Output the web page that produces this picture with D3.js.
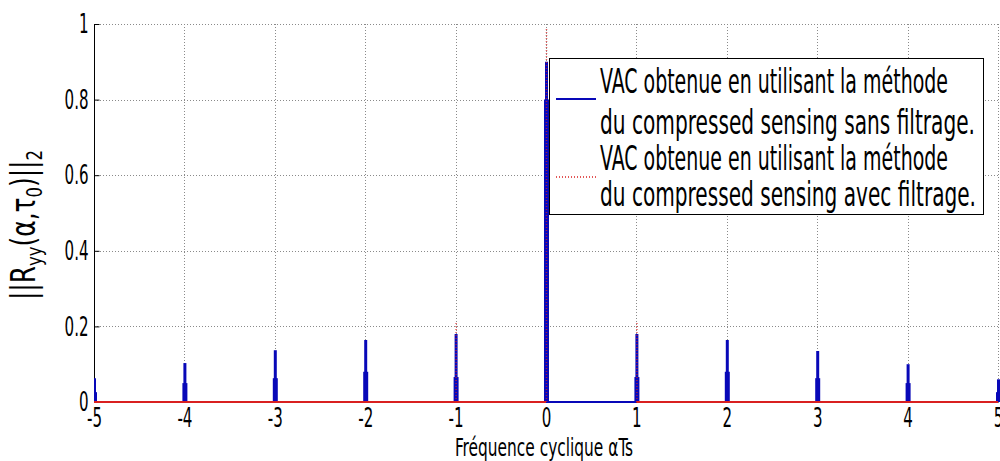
<!DOCTYPE html>
<html><head><meta charset="utf-8">
<script src="https://cdn.jsdelivr.net/npm/d3@7"></script>
<style>
html,body{margin:0;padding:0;background:#fff;}
svg{display:block;}
text{font-family:"Liberation Sans Narrow","DejaVu Sans Condensed","Arial Narrow",sans-serif;fill:#000;}
</style></head>
<body>
<svg id="chart" width="1000" height="461"></svg>
<script>
// ---- data ----
const xTicks = [-5,-4,-3,-2,-1,0,1,2,3,4,5];
const yTicks = [0,0.2,0.4,0.6,0.8,1];
const peakAlpha = [-5,-4,-3,-2,-1,0,1,2,3,4,5];
const blueTop = [0.063,0.103,0.137,0.164,0.18,0.90,0.18,0.164,0.135,0.10,0.06];
const blueShoulder = [0.026,0.05,0.063,0.08,0.066,0.80,0.066,0.08,0.063,0.05,0.026];
const redAlpha = [-1,0,1];
const redTop = [0.21,0.99,0.21];
const redBaseSegments = [[-5,0],[1,5]];
const blueBaseSegments = [[0,1]];
const legendLines = [
  "VAC obtenue en utilisant la méthode",
  "du compressed sensing sans filtrage.",
  "VAC obtenue en utilisant la méthode",
  "du compressed sensing avec filtrage."
];
const xLabel = "Fréquence cyclique αTs";

const BLUE = "#0808b8", RED = "#d92020";
const svg = d3.select("#chart");
const x = d3.scaleLinear().domain([-5,5]).range([94,998]);
const y = d3.scaleLinear().domain([0,1]).range([402,24]);

svg.append("defs").append("clipPath").attr("id","clip")
  .append("rect").attr("x",94).attr("y",0).attr("width",906).attr("height",404);

// grid
const grid = svg.append("g").attr("stroke","#8a8a8a").attr("stroke-width",1).attr("stroke-dasharray","1,2");
grid.selectAll("line.v").data(xTicks.filter(d=>d>-5)).join("line")
  .attr("x1",d=>Math.round(x(d))+0.5).attr("x2",d=>Math.round(x(d))+0.5)
  .attr("y1",y(1)).attr("y2",y(0));
grid.selectAll("line.h").data(yTicks.filter(d=>d>0)).join("line")
  .attr("y1",d=>Math.round(y(d))+0.5).attr("y2",d=>Math.round(y(d))+0.5)
  .attr("x1",x(-5)).attr("x2",x(5));

// axes
const yAxis = svg.append("g").attr("transform","translate(94.5,0)")
  .call(d3.axisLeft(y).tickValues(yTicks).tickSize(-5).tickPadding(6).tickFormat(d=>d===0||d===1?String(d):d3.format(".1f")(d)));
const xAxis = svg.append("g").attr("transform","translate(0,402.5)")
  .call(d3.axisBottom(x).tickValues(xTicks).tickSize(-5).tickPadding(8).tickFormat(d=>String(d)));
[yAxis,xAxis].forEach(g=>{
  g.select(".domain").attr("stroke","#000").attr("stroke-width",1);
  g.selectAll(".tick line").attr("stroke","#000");
  g.selectAll("text").style("font-size","27px").attr("fill","#000");
});
xAxis.select(".domain").attr("d", `M${x(-5)},0H${x(5)}`);
yAxis.select(".domain").attr("d", `M0,${y(1)}V${y(0)}`);
function squeeze(sel, f){ sel.each(function(){ const w=this.getComputedTextLength(); d3.select(this).attr("textLength",w*f).attr("lengthAdjust","spacingAndGlyphs"); }); }
squeeze(yAxis.selectAll("text"),0.62);
squeeze(xAxis.selectAll("text"),0.62);
xAxis.selectAll("text").attr("dy","0.62em");

const plot = svg.append("g").attr("clip-path","url(#clip)");
// blue baseline segments
plot.selectAll("line.bb").data(blueBaseSegments).join("line")
  .attr("x1",d=>x(d[0])).attr("x2",d=>x(d[1])).attr("y1",y(0)).attr("y2",y(0))
  .attr("stroke",BLUE).attr("stroke-width",2);
// blue peaks
const peaks = peakAlpha.map((a,i)=>({a, top:blueTop[i], sh:blueShoulder[i]}));
plot.selectAll("line.bp").data(peaks).join("line")
  .attr("x1",d=>x(d.a)+0.5).attr("x2",d=>x(d.a)+0.5).attr("y1",y(0)).attr("y2",d=>y(d.top))
  .attr("stroke",BLUE).attr("stroke-width",3);
plot.selectAll("line.bs").data(peaks).join("line")
  .attr("x1",d=>x(d.a)+0.5).attr("x2",d=>x(d.a)+0.5).attr("y1",y(0)).attr("y2",d=>y(d.sh))
  .attr("stroke",BLUE).attr("stroke-width",5);
// red baseline
plot.selectAll("line.rb").data(redBaseSegments).join("line")
  .attr("x1",d=>x(d[0])).attr("x2",d=>x(d[1])).attr("y1",y(0)).attr("y2",y(0))
  .attr("stroke",RED).attr("stroke-width",2);
// red dotted peaks
plot.selectAll("line.rp").data(redAlpha.map((a,i)=>({a,top:redTop[i]}))).join("line")
  .attr("x1",d=>x(d.a)+0.5).attr("x2",d=>x(d.a)+0.5).attr("y1",y(0)).attr("y2",d=>y(d.top))
  .attr("stroke",RED).attr("stroke-width",1.5).attr("stroke-dasharray","1,2").attr("opacity",0.75);

// legend
const lg = svg.append("g");
lg.append("rect").attr("x",549.5).attr("y",58.5).attr("width",434).attr("height",156)
  .attr("fill","#fff").attr("stroke","#000").attr("stroke-width",1);
lg.append("line").attr("x1",556).attr("x2",596).attr("y1",99).attr("y2",99).attr("stroke",BLUE).attr("stroke-width",2);
lg.append("line").attr("x1",556).attr("x2",596).attr("y1",177).attr("y2",177).attr("stroke",RED).attr("stroke-width",1.5).attr("stroke-dasharray","1,2");
const lgBase = [93,134,170,206];
const lgLen = [348,375,348,376];
lg.selectAll("text").data(legendLines).join("text")
  .attr("x",600).attr("y",(d,i)=>lgBase[i]).text(d=>d)
  .style("font-size","34px").attr("textLength",(d,i)=>lgLen[i]).attr("lengthAdjust","spacingAndGlyphs");

// x label
svg.append("text").attr("x",455).attr("y",456).text(xLabel)
  .style("font-size","25px").attr("textLength",178).attr("lengthAdjust","spacingAndGlyphs");

// y label
const yl = svg.append("text").attr("transform","translate(35,300) rotate(-90)")
  .style("font-size","33px").attr("textLength",150).attr("lengthAdjust","spacingAndGlyphs");
yl.append("tspan").text("||R");
yl.append("tspan").attr("dy",7).style("font-size","22px").text("yy");
yl.append("tspan").attr("dy",-7).text("(α,τ");
yl.append("tspan").attr("dy",7).style("font-size","22px").text("0");
yl.append("tspan").attr("dy",-7).text(")||");
yl.append("tspan").attr("dy",7).style("font-size","22px").text("2");
</script>
</body></html>
